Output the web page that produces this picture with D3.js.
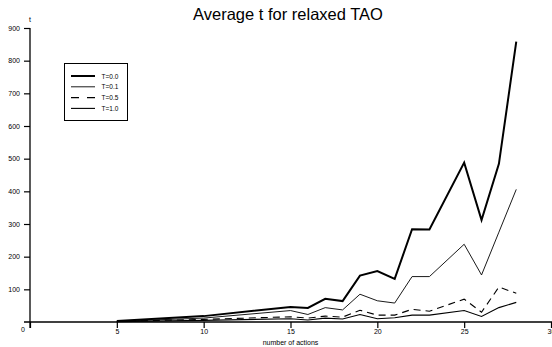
<!DOCTYPE html>
<html>
<head>
<meta charset="utf-8">
<script src="https://cdn.jsdelivr.net/npm/d3@7"></script>
<style>
  html, body { margin: 0; padding: 0; background: #fff; }
  text { font-family: "Liberation Sans", Arial, Helvetica, sans-serif; fill: #000; }
</style>
</head>
<body>
<svg id="chart" width="552" height="347"></svg>
<script>
// Number of actions measured
const actions = [5, 10, 15, 16, 17, 18, 19, 20, 21, 22, 23, 25, 26, 27, 28];

// Average t per temperature setting
const tempT00 = [3, 18, 46, 43, 71, 64, 142, 156, 132, 284, 283, 488, 312, 484, 858];
const tempT01 = [2, 12, 35, 23, 44, 37, 85, 65, 58, 139, 139, 238, 144, 275, 406];
const tempT05 = [2, 8, 16, 12, 18, 15, 36, 21, 21, 39, 33, 70, 30, 107, 88];
const tempT10 = [1, 5, 10, 6, 12, 9, 23, 10, 13, 21, 21, 35, 17, 44, 60];

const seriesNames = ["T=0.0", "T=0.1", "T=0.5", "T=1.0"];
const xTicks = [0, 5, 10, 15, 20, 25, 30];
const yTicks = [100, 200, 300, 400, 500, 600, 700, 800, 900];

const series = [
  { name: seriesNames[0], values: tempT00, width: 2, dash: null },
  { name: seriesNames[1], values: tempT01, width: 0.9, dash: null },
  { name: seriesNames[2], values: tempT05, width: 1.1, dash: "7,5" },
  { name: seriesNames[3], values: tempT10, width: 1.1, dash: null }
];

const svg = d3.select("#chart");

const x = d3.scaleLinear().domain([0, 30]).range([30, 551]);
const y = d3.scaleLinear().domain([0, 900]).range([322, 28]);

// Title
svg.append("text")
  .attr("x", 288).attr("y", 20)
  .attr("text-anchor", "middle")
  .attr("font-size", 16.5)
  .text("Average t for relaxed TAO");

// X axis: baseline extends slightly left of the y axis
svg.append("line")
  .attr("x1", 24).attr("x2", 552)
  .attr("y1", y(0)).attr("y2", y(0))
  .attr("stroke", "#000").attr("stroke-width", 1.3);

const xAxis = d3.axisBottom(x).tickValues(xTicks).tickSize(6).tickFormat(d => d === 0 ? "" : d);
const gx = svg.append("g").attr("transform", `translate(0,${y(0)})`).call(xAxis);
gx.select(".domain").remove();
gx.selectAll(".tick line").attr("stroke-width", 1.2);
gx.selectAll(".tick text").attr("font-size", 7).attr("dy", 3);

// Y axis
const yAxis = d3.axisLeft(y).tickValues(yTicks).tickSize(6);
const gy = svg.append("g").attr("transform", `translate(${x(0)},0)`).call(yAxis);
gy.select(".domain").remove();
gy.selectAll(".tick line").attr("stroke-width", 1.2);
gy.selectAll(".tick text").attr("font-size", 7).attr("dx", -1);

svg.append("line")
  .attr("x1", x(0)).attr("x2", x(0))
  .attr("y1", y(900)).attr("y2", y(0) + 6)
  .attr("stroke", "#000").attr("stroke-width", 1.3);

// Origin label
svg.append("text")
  .attr("x", 23).attr("y", 332)
  .attr("text-anchor", "middle")
  .attr("font-size", 7)
  .text("0");

// Axis titles
svg.append("text")
  .attr("x", x(0)).attr("y", 22)
  .attr("text-anchor", "middle")
  .attr("font-size", 7)
  .text("t");

svg.append("text")
  .attr("x", x(15)).attr("y", 345)
  .attr("text-anchor", "middle")
  .attr("font-size", 7)
  .text("number of actions");

// Data lines
const line = d3.line()
  .x((d, i) => x(actions[i]))
  .y(d => y(d));

series.forEach(s => {
  svg.append("path")
    .datum(s.values)
    .attr("d", line)
    .attr("fill", "none")
    .attr("stroke", "#000")
    .attr("stroke-width", s.width)
    .attr("stroke-linejoin", "miter")
    .attr("stroke-dasharray", s.dash);
});

// Legend
const legend = svg.append("g");
legend.append("rect")
  .attr("x", 64.5).attr("y", 63.5)
  .attr("width", 63).attr("height", 57)
  .attr("fill", "#fff")
  .attr("stroke", "#000").attr("stroke-width", 1);

series.forEach((s, i) => {
  const ly = 76 + i * 10.8;
  legend.append("line")
    .attr("x1", 71).attr("x2", 95)
    .attr("y1", ly).attr("y2", ly)
    .attr("stroke", "#000")
    .attr("stroke-width", s.width)
    .attr("stroke-dasharray", s.dash ? "8,8" : null);
  legend.append("text")
    .attr("x", 101.5).attr("y", ly + 2.5)
    .attr("font-size", 6.5)
    .text(s.name);
});
</script>
</body>
</html>
